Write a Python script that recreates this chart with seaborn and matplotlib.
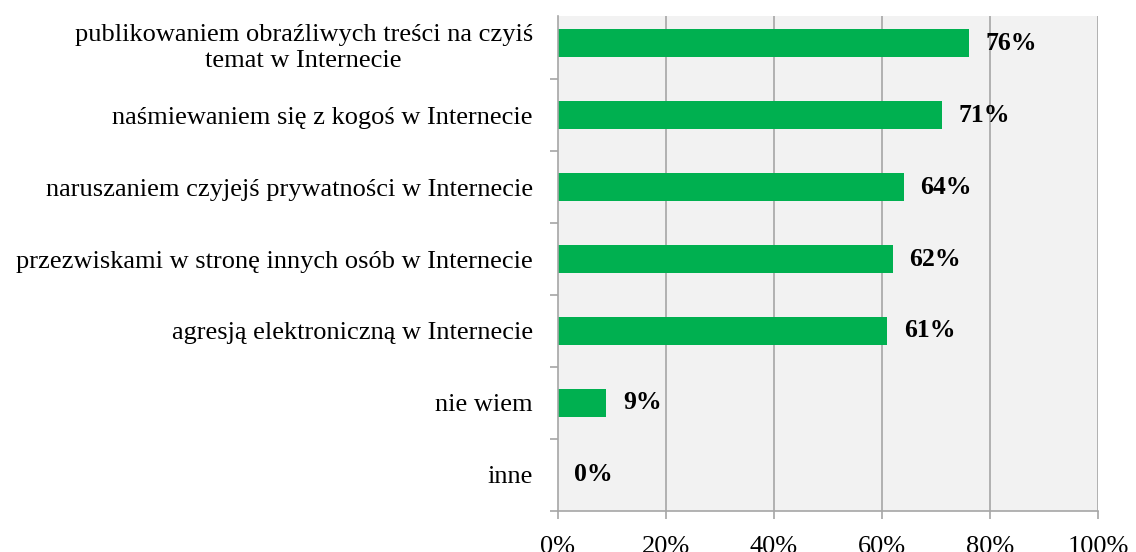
import matplotlib
matplotlib.use("Agg")
import matplotlib.pyplot as plt
import seaborn as sns
import pandas as pd
import numpy as np

categories = [
    "publikowaniem obraźliwych treści na czyiś\ntemat w Internecie",
    "naśmiewaniem się z kogoś w Internecie",
    "naruszaniem czyjejś prywatności w Internecie",
    "przezwiskami w stronę innych osób w Internecie",
    "agresją elektroniczną w Internecie",
    "nie wiem",
    "inne",
]
values = [76, 71, 64, 62, 61, 9, 0]
x_ticks = [0, 20, 40, 60, 80, 100]
x_tick_labels = ["0%", "20%", "40%", "60%", "80%", "100%"]

sns.set_theme(style="white")
plt.rcParams["font.family"] = ["Liberation Serif", "DejaVu Serif"]

df = pd.DataFrame({"kategoria": categories, "procent": values})

fig = plt.figure(figsize=(11.36, 5.52), dpi=100)
ax = fig.add_axes([0.491, 0.0748, 0.9668 - 0.491, 0.971 - 0.0748])

sns.barplot(data=df, y="kategoria", x="procent", orient="h", color="#00B050",
            width=0.39, saturation=1, linewidth=0, ax=ax, zorder=3)

ax.set_facecolor("#F2F2F2")
ax.set_xlim(0, 100)
ax.set_ylim(len(categories) - 0.5, -0.38)
ax.set_xlabel("")
ax.set_ylabel("")

grid_c = "#A6A6A6"
for gx in x_ticks[1:]:
    ax.axvline(gx, color=grid_c, lw=1.2, zorder=1)

for side in ["top", "right"]:
    ax.spines[side].set_visible(False)
for side in ["left", "bottom"]:
    ax.spines[side].set_color(grid_c)
    ax.spines[side].set_linewidth(1.2)
    ax.spines[side].set_zorder(4)

# x axis
ax.set_xticks(x_ticks)
ax.set_xticklabels(x_tick_labels, fontsize=19, color="black")
ax.tick_params(axis="x", direction="out", length=6, width=1.2, color=grid_c,
               pad=12, bottom=True)

# y axis: tick marks at category boundaries, labels at category centres
pos = np.arange(len(categories))
ax.set_yticks(pos + 0.5)
ax.set_yticklabels([])
ax.tick_params(axis="y", which="major", direction="out", length=6, width=1.2,
               color=grid_c, left=True)
ax.set_yticks(pos, minor=True)
ax.set_yticklabels(categories, minor=True, fontsize=19, color="black",
                   multialignment="center", linespacing=1.25)
ax.tick_params(axis="y", which="minor", length=0, pad=18)

# value labels
for container in ax.containers:
    ax.bar_label(container, labels=[f"{v}%" for v in values], padding=12,
                 fontsize=18.5, fontweight="bold", color="black")

fig.savefig("out.png", dpi=100)
